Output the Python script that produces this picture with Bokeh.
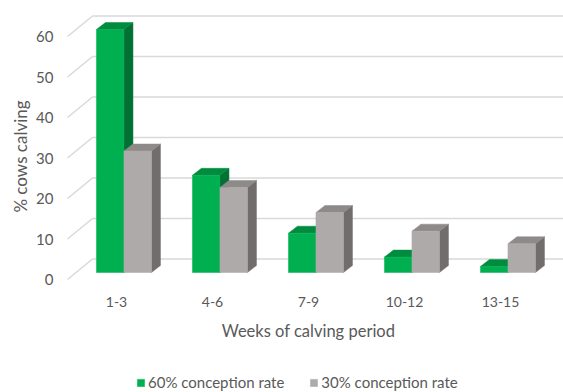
from bokeh.plotting import figure
from bokeh.models import Range1d, Legend, LegendItem
from bokeh.core.properties import value
from bokeh.embed import file_html
from bokeh.resources import INLINE
import math

# ---- data ----
categories = ["1-3", "4-6", "7-9", "10-12", "13-15"]
rate60 = [60, 24, 9.7, 3.8, 1.5]
rate30 = [30, 21, 14.8, 10.2, 7.1]
series_names = ["60% conception rate", "30% conception rate"]
y_ticks = [0, 10, 20, 30, 40, 50, 60]
y_tick_labels = [str(t) for t in y_ticks]
y_title = "% cows calving"
x_title = "Weeks of calving period"

# ---- style ----
W, H = 563, 392
FONT = "Lato"
TXT = "#595959"
GRID = "#D9D9D9"
GREEN = ("#00B050", "#008C3F", "#007034")   # front, top, side
GRAY = ("#AEAAAA", "#8E8A8A", "#716D6D")
PX_X = 96.0        # pixels per category
PX_Y = 4.05        # pixels per y unit
LABEL0_PX = 116.0  # pixel of first category label
ZERO_PX = 272.0    # pixel of y = 0 on bar plane


def dx(px):  # screen x pixel -> data x
    return (px - LABEL0_PX) / PX_X


def dy(py):  # screen y pixel (from top) -> data y
    return (ZERO_PX - py) / PX_Y


DX = 9 / PX_X      # 3D depth offset
DY = 7 / PX_Y
BACK_DY = 13.5 / PX_Y
AXIS_DY = 7 / PX_Y
LEFT_X = dx(67)
BACK_X = dx(92)
OFF_G = -6.3 / PX_X
OFF_S = 21.2 / PX_X
BW = 27.5 / PX_X

x0, x1 = dx(0), dx(W)
y0, y1 = dy(H), dy(0)

p = figure(frame_width=W, frame_height=H,
           output_backend="svg", toolbar_location=None,
           x_range=Range1d(x0, x1), y_range=Range1d(y0, y1),
           min_border=0)
p.axis.visible = False
p.grid.visible = False
p.outline_line_color = None

# gridlines: back wall and left wall
n = len(y_ticks)
p.segment(x0=[BACK_X] * n, y0=[v + BACK_DY for v in y_ticks],
          x1=[x1] * n, y1=[v + BACK_DY for v in y_ticks],
          line_color=GRID, line_width=1.5)
p.segment(x0=[LEFT_X] * n, y0=[v - AXIS_DY for v in y_ticks],
          x1=[BACK_X] * n, y1=[v + BACK_DY for v in y_ticks],
          line_color=GRID, line_width=1.5)

xs = list(range(len(categories)))
renderers = []
for vals, off, cols in ((rate60, OFF_G, GREEN), (rate30, OFF_S, GRAY)):
    lefts = [x + off - BW / 2 for x in xs]
    rights = [x + off + BW / 2 for x in xs]
    side_x = [[r, r + DX, r + DX, r] for r in rights]
    side_y = [[0, DY, v + DY, v] for v in vals]
    top_x = [[l, r, r + DX, l + DX] for l, r in zip(lefts, rights)]
    top_y = [[v, v, v + DY, v + DY] for v in vals]
    p.patches(side_x, side_y, fill_color=cols[2], line_color=cols[2], line_width=0.5)
    p.patches(top_x, top_y, fill_color=cols[1], line_color=cols[1], line_width=0.5)
    r = p.vbar(x=[x + off for x in xs], top=vals, bottom=0, width=BW,
               fill_color=cols[0], line_color=cols[0], line_width=0.5)
    renderers.append(r)

# y tick labels (on the left wall's front edge)
p.text(x=[dx(53)] * n, y=[v - AXIS_DY for v in y_ticks], text=y_tick_labels,
       text_align="right", text_baseline="middle", text_color=TXT,
       text_font=value(FONT), text_font_size=value("15px"))
# category labels
p.text(x=xs, y=[dy(301)] * len(xs), text=categories,
       text_align="center", text_baseline="middle", text_color=TXT,
       text_font=value(FONT), text_font_size=value("14px"))
# axis titles
p.text(x=[dx(308)], y=[dy(330)], text=[x_title],
       text_align="center", text_baseline="middle", text_color=TXT,
       text_font=value(FONT), text_font_size=value("16.5px"))
p.text(x=[dx(20)], y=[dy(156)], text=[y_title], angle=math.pi / 2,
       text_align="center", text_baseline="middle", text_color=TXT,
       text_font=value(FONT), text_font_size=value("17px"))

legend = Legend(items=[LegendItem(label=nm, renderers=[r]) for nm, r in zip(series_names, renderers)],
                orientation="horizontal", location=(136, 1),
                glyph_width=9, glyph_height=9, label_standoff=3, spacing=25,
                label_text_font=FONT, label_text_font_size="15px", label_text_color=TXT,
                border_line_color=None, background_fill_alpha=0, padding=0, margin=0)
p.add_layout(legend, "center")

open("out.html", "w").write(file_html(p, INLINE))
